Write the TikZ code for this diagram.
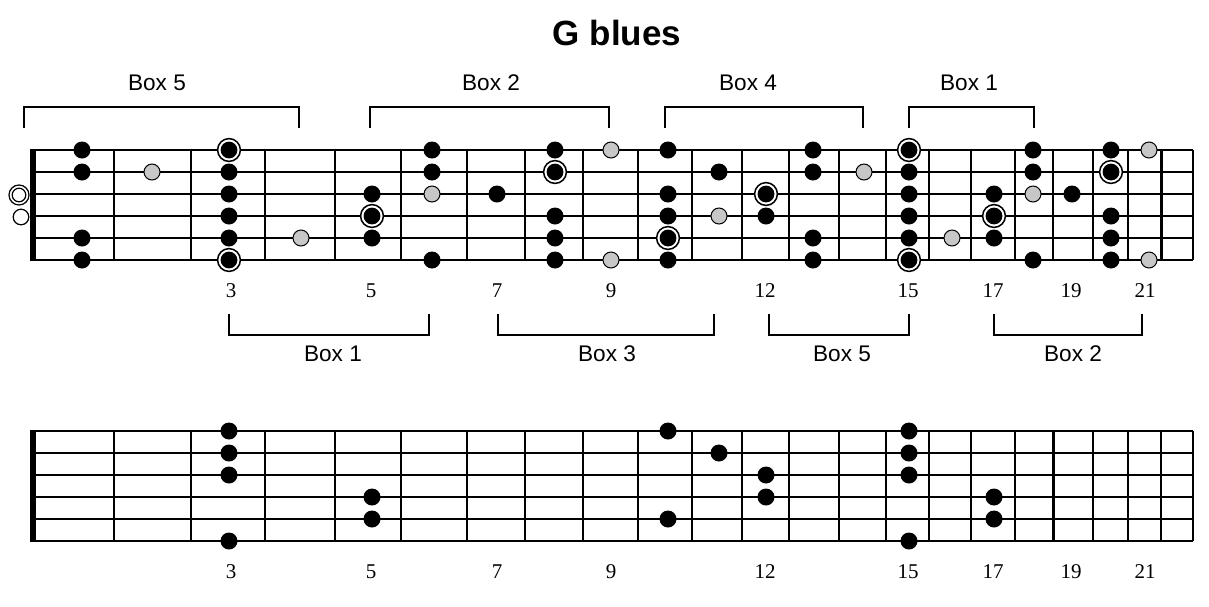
\documentclass[tikz,border=0pt]{standalone}
\usepackage{fontspec}
\setmainfont{Liberation Serif}
\setsansfont{Liberation Sans}
\usepackage{tikz}
\usetikzlibrary{calc}
\tikzstyle{string line} = [line width=0.9pt]
\tikzstyle{thick string} = [line width=1.4pt]
\tikzstyle{fret line}   = [line width=0.9pt]
\tikzstyle{thick fret}  = [line width=1.5pt]
\tikzstyle{nut}         = [line width=2.8pt]
\tikzstyle{note}        = [circle, fill=black, inner sep=0pt, minimum size=8.5pt]
\tikzstyle{blue note}   = [circle, draw=black, line width=0.5pt, fill=black!22, inner sep=0pt, minimum size=8pt]
\tikzstyle{root}        = [circle, draw=black, line width=0.75pt, fill=white, inner sep=0pt, minimum size=11.4pt, path picture={\fill[black] (path picture bounding box.center) circle (4.2pt);}]
\tikzstyle{open root}   = [circle, draw=black, line width=0.6pt, fill=white, inner sep=0pt, minimum size=10pt, path picture={\draw[black, line width=0.6pt] (path picture bounding box.center) circle (3.4pt);}]
\tikzstyle{open string} = [circle, draw=black, line width=0.6pt, fill=white, inner sep=0pt, minimum size=7.8pt]
\tikzstyle{bracket}     = [line width=0.75pt]
\tikzstyle{boxlabel}    = [font=\sffamily\fontsize{11.3}{13}\selectfont, anchor=base, inner sep=0pt]
\tikzstyle{fretnum}     = [font=\fontsize{10.5}{12}\selectfont, anchor=base, inner sep=0pt]
\tikzstyle{title}       = [font=\sffamily\bfseries\fontsize{17.5}{20}\selectfont, anchor=base, inner sep=0pt]

\begin{document}
\begin{tikzpicture}[x=0.5pt, y=-0.5pt]
        \useasboundingbox (0,0) rectangle (1209,606);

        \node[title] (title) at (617,45) {G blues};

        \foreach \y in {150,172,216,238,260}
                \draw[string line] (33,\y) -- (1193,\y);
        \draw[thick string] (33,194) -- (1193,194);
        \foreach \x in {114,191,265,335,401,467,525,583,638,692,742,789,839,886,929,971,1015,1053,1093,1128,1193}
                \draw[fret line] (\x,150) -- (\x,260);
        \draw[thick fret] (1161,150) -- (1161,260);
        \draw[nut] (33,149) -- (33,261);

        \node[open root] (open3) at (19,195) {};
        \node[open string] (open4) at (21,217) {};

        \foreach \x/\s in {82/1,82/2,82/5,82/6,229/2,229/3,229/4,229/5,372/3,372/5,
                432/1,432/2,432/6,497/3,555/1,555/4,555/5,555/6,668/1,668/3,668/4,668/6,
                719/2,766/4,813/1,813/2,813/5,813/6,909/2,909/3,909/4,909/5,994/3,994/5,
                1033/1,1033/2,1033/6,1072/3,1111/1,1111/4,1111/5,1111/6}
                \node[note] (t\x-\s) at (\x,{128+22*\s}) {};
        \foreach \x/\s in {152/2,301/5,432/3,611/1,611/6,719/4,864/2,952/5,1033/3,1149/1,1149/6}
                \node[blue note] (t\x-\s) at (\x,{128+22*\s}) {};
        \foreach \x/\s in {229/1,229/6,372/4,555/2,668/5,766/3,909/1,909/6,994/4,1111/2}
                \node[root] (t\x-\s) at (\x,{128+22*\s}) {};

        \foreach \x/\n in {231/3,371/5,497/7,611/9,765/12,908/15,993/17,1071/19,1145/21}
                \node[fretnum] (tn\n) at (\x,297) {\n};

        \draw[bracket] (24,128) |- (299,107) -- (299,128);
        \draw[bracket] (370,128) |- (609,107) -- (609,128);
        \draw[bracket] (665,128) |- (863,107) -- (863,128);
        \draw[bracket] (909,128) |- (1034,107) -- (1034,128);
        \node[boxlabel] (top5) at (157,90) {Box 5};
        \node[boxlabel] (top2) at (491,90) {Box 2};
        \node[boxlabel] (top4) at (748,90) {Box 4};
        \node[boxlabel] (top1) at (969,90) {Box 1};

        \draw[bracket] (229,314) |- (429,335) -- (429,314);
        \draw[bracket] (498,314) |- (714,335) -- (714,314);
        \draw[bracket] (769,314) |- (909,335) -- (909,314);
        \draw[bracket] (994,314) |- (1142,335) -- (1142,314);
        \node[boxlabel] (bot1) at (333,361) {Box 1};
        \node[boxlabel] (bot3) at (607,361) {Box 3};
        \node[boxlabel] (bot5) at (842,361) {Box 5};
        \node[boxlabel] (bot2) at (1073,361) {Box 2};

        \foreach \y in {431,453,475,519,541}
                \draw[string line] (33,\y) -- (1193,\y);
        \draw[thick string] (33,497) -- (1193,497);
        \foreach \x in {114,191,265,335,401,467,525,583,638,692,742,789,839,886,929,971,1015,1093,1128,1161,1193}
                \draw[fret line] (\x,431) -- (\x,541);
        \draw[thick fret] (1053,431) -- (1053,541);
        \draw[nut] (33,430) -- (33,542);

        \foreach \x/\s in {229/1,229/2,229/3,229/6,372/4,372/5,668/1,668/5,719/2,
                766/3,766/4,909/1,909/2,909/3,909/6,994/4,994/5}
                \node[note] (b\x-\s) at (\x,{409+22*\s}) {};

        \foreach \x/\n in {231/3,371/5,497/7,611/9,765/12,908/15,993/17,1071/19,1145/21}
                \node[fretnum] (bn\n) at (\x,578) {\n};
\end{tikzpicture}
\end{document}
